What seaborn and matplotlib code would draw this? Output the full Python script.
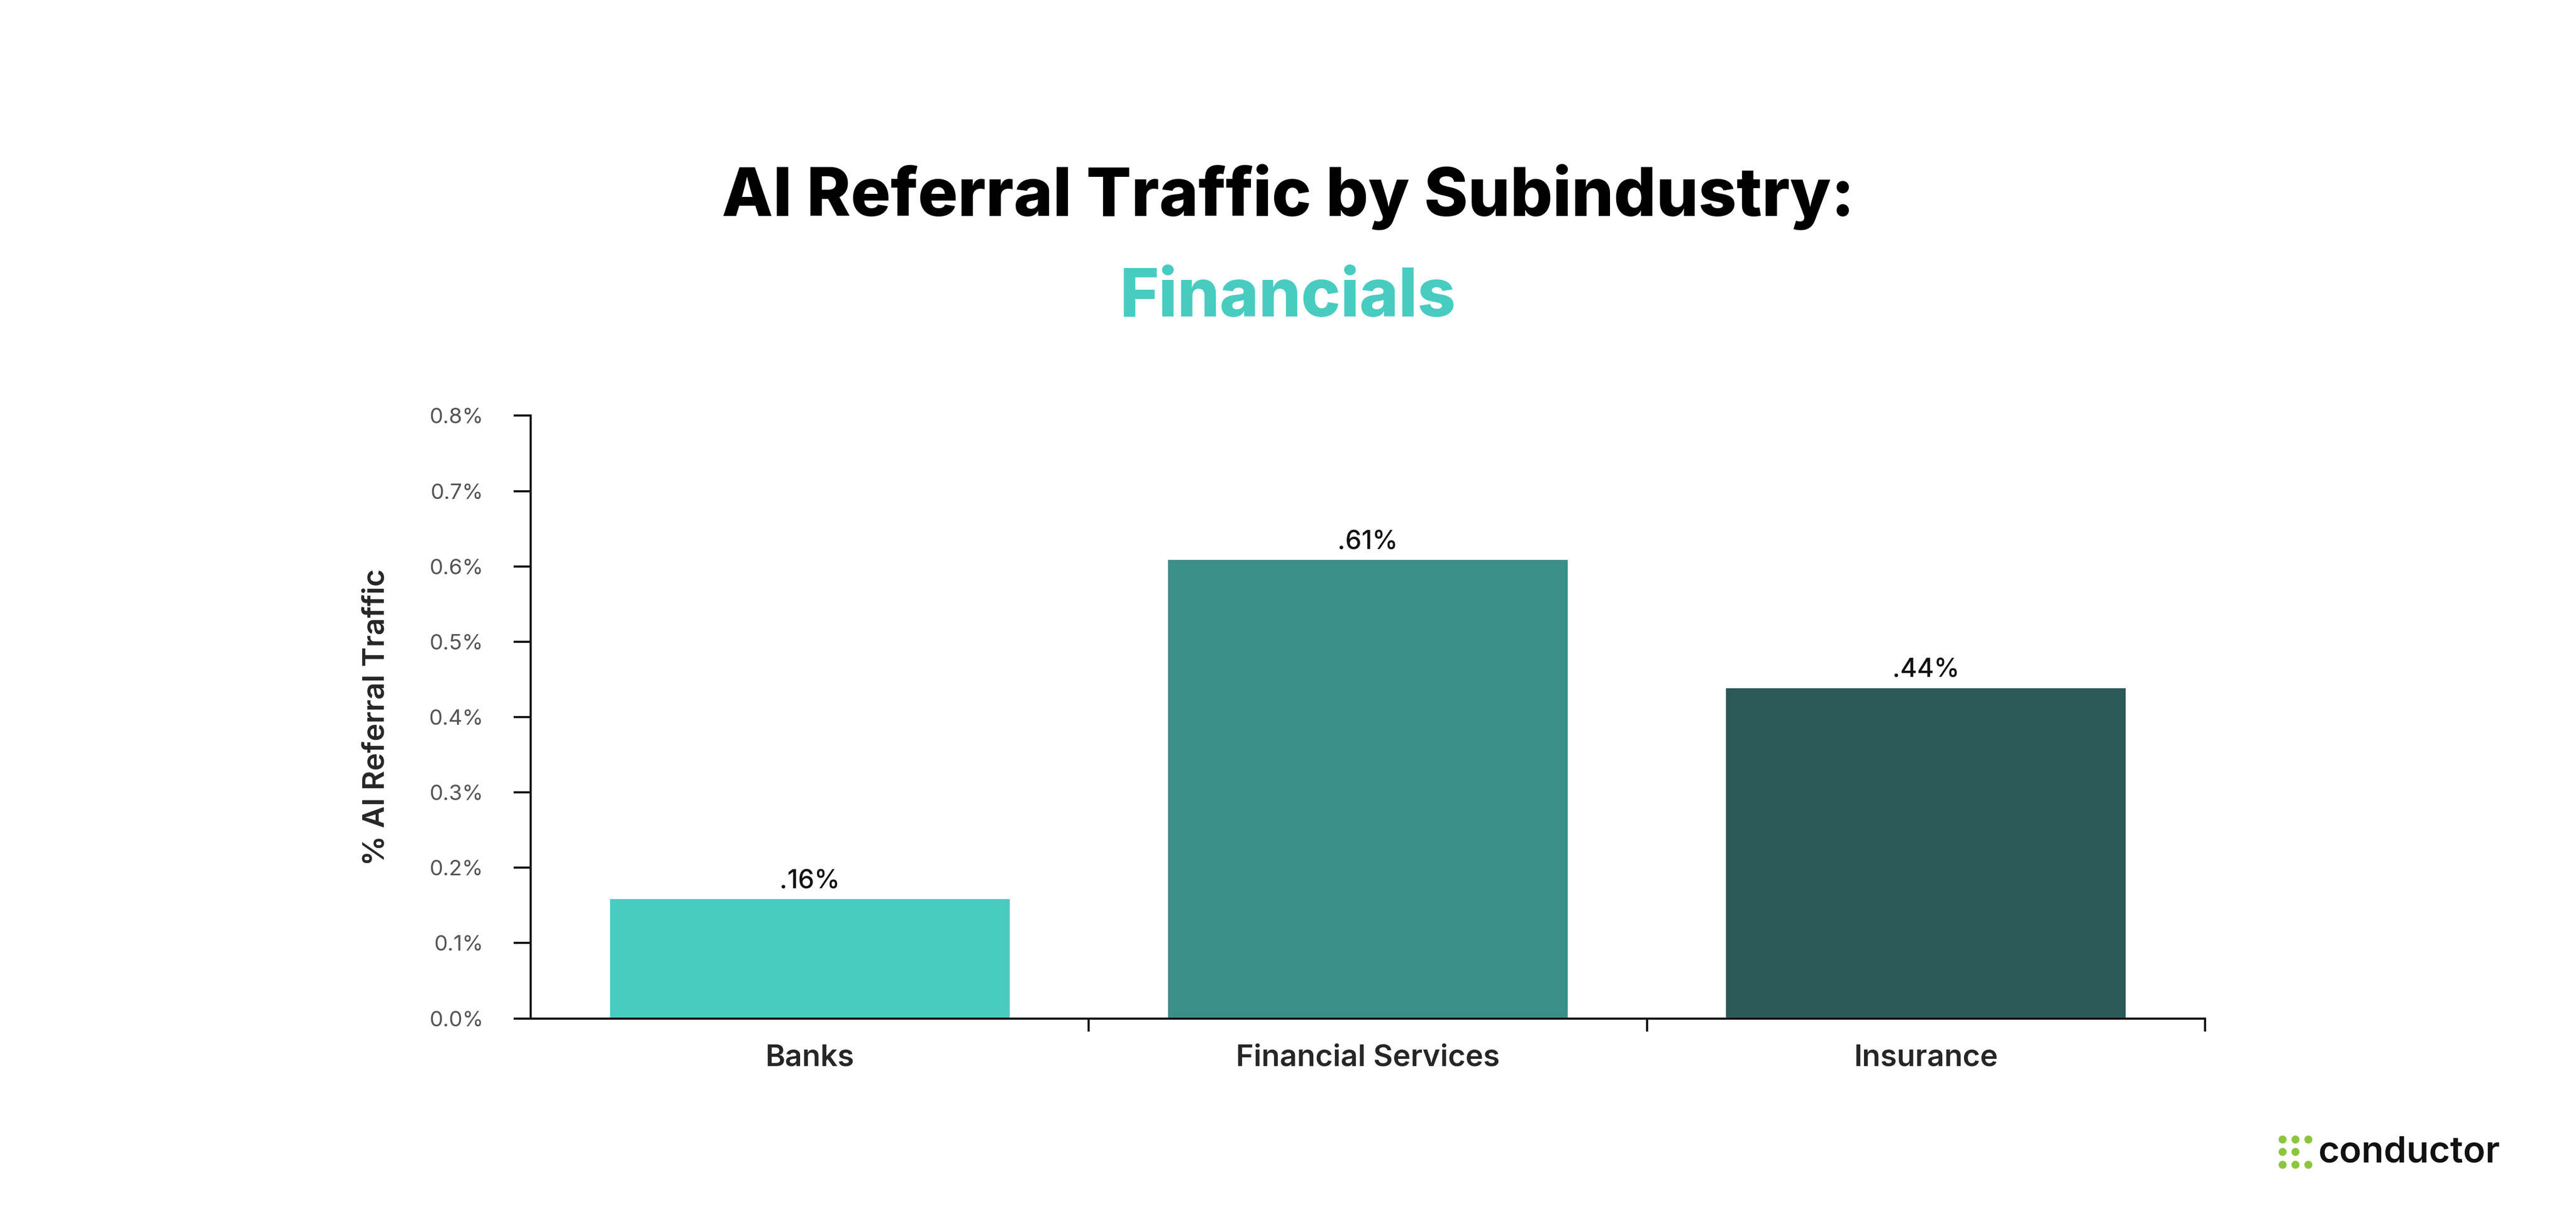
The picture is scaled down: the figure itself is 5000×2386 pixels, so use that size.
import matplotlib
matplotlib.use("Agg")
import matplotlib.pyplot as plt
import seaborn as sns
import pandas as pd

categories = ["Banks", "Financial Services", "Insurance"]
values = [0.16, 0.61, 0.44]
bar_labels = [".16%", ".61%", ".44%"]
colors = ["#48CCC2", "#3A8F8A", "#2C5857"]
yticks = [0.0, 0.1, 0.2, 0.3, 0.4, 0.5, 0.6, 0.7, 0.8]
logo_x = [0, 1, 2, 0, 1, 0, 1, 2]
logo_y = [0, 0, 0, 1, 1, 2, 2, 2]

sns.set_style("white")
plt.rcParams["font.family"] = ["Inter", "DejaVu Sans"]

df = pd.DataFrame({"category": categories, "value": values})

fig = plt.figure(figsize=(50 / 3, 2386 / 300), dpi=300)
ax = fig.add_axes([0.206, 0.172, 0.65, 0.49])
sns.barplot(data=df, x="category", y="value", hue="category", palette=colors,
            width=0.72, legend=False, ax=ax, saturation=1)

for i, (v, lab) in enumerate(zip(values, bar_labels)):
    ax.text(i, v + 0.006, lab, ha="center", va="bottom", fontsize=12,
            fontweight="medium", color="#111111")

ax.set_xlim(-0.5, 2.5)
ax.set_ylim(0, 0.8)
ax.set_yticks(yticks)
ax.set_yticklabels([f"{t:.1f}%" for t in yticks], fontsize=10, color="#555555")
ax.set_xticks([0.5, 1.5, 2.5], minor=True)
ax.tick_params(axis="x", which="major", bottom=False, length=0, labelsize=14, pad=12)
ax.tick_params(axis="x", which="minor", bottom=True, length=6, width=1, color="#111111", direction="out")
ax.tick_params(axis="y", left=True, length=8, width=1, color="#111111", direction="out", pad=14)
for lbl in ax.get_xticklabels():
    lbl.set_fontweight("semibold")
ax.set_xlabel("")
ax.set_ylabel("% AI Referral Traffic", fontsize=14, fontweight="semibold", labelpad=18)
sns.despine(ax=ax)
for s in ["left", "bottom"]:
    ax.spines[s].set_color("#111111")
    ax.spines[s].set_linewidth(1)

fig.text(0.5, 0.84, "AI Referral Traffic by Subindustry:", ha="center", va="center",
         fontsize=31, fontweight="heavy", color="#000000")
fig.text(0.5, 0.757, "Financials", ha="center", va="center",
         fontsize=31, fontweight="heavy", color="#48CCC2")

# logo
lax = fig.add_axes([0.883, 0.047, 0.016, 0.033])
lax.scatter(logo_x, logo_y, s=14, color="#8CC63F", linewidths=0)
lax.set_xlim(-0.6, 2.6)
lax.set_ylim(-0.6, 2.6)
lax.set_aspect("equal")
lax.axis("off")
fig.text(0.9, 0.063, "conductor", ha="left", va="center", fontsize=17,
         fontweight="semibold", color="#111111")

fig.savefig("out.png", dpi=300, facecolor="white")
